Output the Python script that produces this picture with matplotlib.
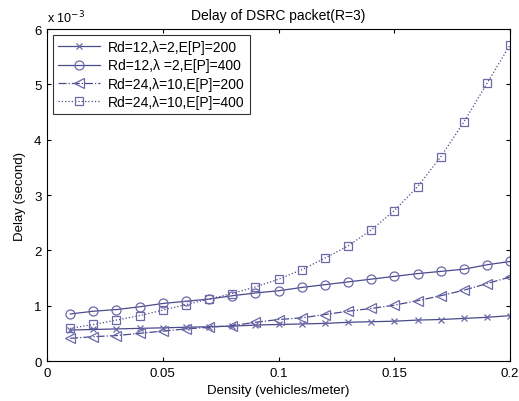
import matplotlib
matplotlib.use("Agg")
import matplotlib.pyplot as plt

density = [0.01, 0.02, 0.03, 0.04, 0.05, 0.06, 0.07, 0.08, 0.09, 0.10,
           0.11, 0.12, 0.13, 0.14, 0.15, 0.16, 0.17, 0.18, 0.19, 0.20]
# values in units of 1e-3 s
rd12_ep200 = [0.56, 0.57, 0.58, 0.59, 0.60, 0.61, 0.62, 0.63, 0.65, 0.66,
              0.67, 0.68, 0.70, 0.71, 0.72, 0.74, 0.75, 0.77, 0.79, 0.82]
rd12_ep400 = [0.85, 0.90, 0.93, 0.98, 1.04, 1.08, 1.12, 1.18, 1.23, 1.27,
              1.33, 1.38, 1.43, 1.48, 1.53, 1.58, 1.62, 1.66, 1.74, 1.80]
rd24_ep200 = [0.41, 0.44, 0.46, 0.50, 0.54, 0.58, 0.61, 0.64, 0.70, 0.75,
              0.78, 0.84, 0.90, 0.95, 1.01, 1.09, 1.18, 1.28, 1.40, 1.52]
rd24_ep400 = [0.59, 0.66, 0.74, 0.82, 0.92, 1.02, 1.12, 1.22, 1.34, 1.48,
              1.65, 1.86, 2.08, 2.37, 2.72, 3.15, 3.69, 4.32, 5.02, 5.72]
labels = ["Rd=12,\u03bb=2,E[P]=200", "Rd=12,\u03bb =2,E[P]=400",
          "Rd=24,\u03bb=10,E[P]=200", "Rd=24,\u03bb=10,E[P]=400"]

plt.rcParams['font.family'] = ['Liberation Sans', 'DejaVu Sans']
fig = plt.figure(figsize=(5.19, 4.02), dpi=100)
ax = fig.add_axes([0.0906, 0.0995, 0.8924, 0.8255])

lc = '#4a4a8c'
mc = '#6a6aa8'
scale = 1e-3
series = [
    (rd12_ep200, 'x', '-', 5),
    (rd12_ep400, 'o', '-', 6.5),
    (rd24_ep200, '<', '-.', 6.5),
    (rd24_ep400, 's', ':', 6),
]
for (vals, m, ls, ms), lab in zip(series, labels):
    ax.plot(density, [v * scale for v in vals], linestyle=ls, marker=m,
            color=lc, markeredgecolor=mc, markerfacecolor='none',
            markersize=ms, linewidth=0.9, markeredgewidth=0.9, label=lab)

ax.set_xlim(0, 0.2)
ax.set_ylim(0, 6e-3)
ax.set_xticks([0, 0.05, 0.1, 0.15, 0.2])
ax.set_xticklabels(["0", "0.05", "0.1", "0.15", "0.2"])
ax.set_yticks([i * 1e-3 for i in range(7)])
ax.set_yticklabels([str(i) for i in range(7)])
ax.text(0.0, 1.012, r"x 10$^{-3}$", transform=ax.transAxes, fontsize=9,
        ha='left', va='bottom')
ax.tick_params(direction='in', top=True, right=True, labelsize=9.5, length=3,
               pad=4)
ax.set_title("Delay of DSRC packet(R=3)", fontsize=10, pad=7)
ax.set_xlabel("Density (vehicles/meter)", fontsize=9.5, labelpad=4)
ax.set_ylabel("Delay (second)", fontsize=9.5, labelpad=6)
for s in ax.spines.values():
    s.set_linewidth(0.8)
leg = ax.legend(loc='upper left', fontsize=10, frameon=True, fancybox=False,
                edgecolor='black', borderaxespad=0.4, handlelength=3,
                labelspacing=0.3, borderpad=0.4, handletextpad=0.6)
leg.get_frame().set_linewidth(0.8)
fig.savefig("out.png", dpi=100)
